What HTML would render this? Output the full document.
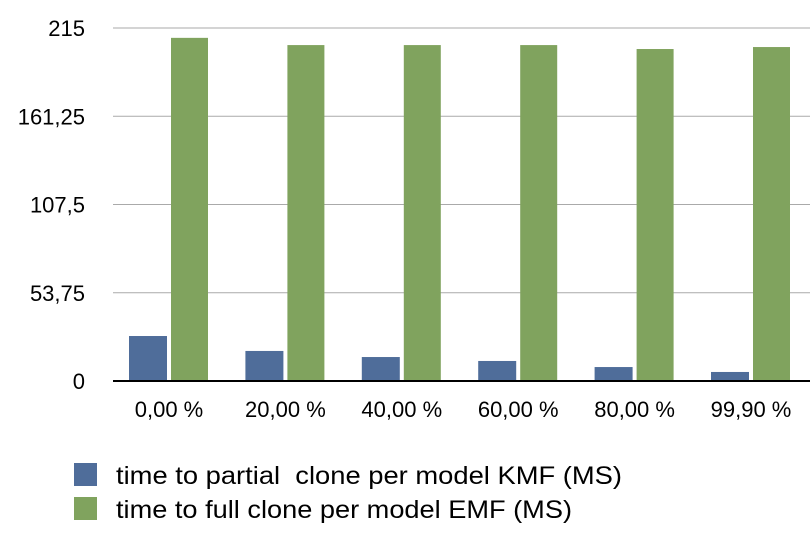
<!DOCTYPE html>
<html><head><meta charset="utf-8"><style>
body{margin:0;background:#fff;width:810px;height:538px;overflow:hidden;font-family:"Liberation Sans",Arial,sans-serif}
text{white-space:pre}
</style></head><body>
<svg width="810" height="538" id="chart"></svg>
<script>
const categories=["0,00 %","20,00 %","40,00 %","60,00 %","80,00 %","99,90 %"];
const kmfValues=[27.4,18.3,14.6,12.2,8.5,5.5];
const emfValues=[209,204.6,204.6,204.6,202.2,203.4];
const tickValues=[0,53.75,107.5,161.25,215];
const tickLabels=["0","53,75","107,5","161,25","215"];
const seriesNames=["time to partial  clone per model KMF (MS)","time to full clone per model EMF (MS)"];
const NS="http://www.w3.org/2000/svg";
const svg=document.getElementById('chart');
const x0=113,bandW=116.4,yBase=381,yTop=28,maxV=215;
function y(v){return yBase-(v/maxV)*(yBase-yTop);}
function bx(i){return x0+i*bandW;}
function mk(t,a,txt){const e=document.createElementNS(NS,t);for(const k in a)e.setAttribute(k,a[k]);if(txt!==undefined)e.textContent=txt;svg.appendChild(e);return e;}
tickValues.forEach((v,i)=>{
  if(v>0){const g=mk('line',{x1:x0,x2:810,y1:y(v),y2:y(v),stroke:'#aaa','stroke-width':1});
  
  }
  const t=mk('text',{x:85,y:y(v)+8,'text-anchor':'end','font-size':22,fill:'#000'},tickLabels[i]);
  
  
});
categories.forEach((c,i)=>{
  const b=mk('rect',{x:bx(i)+16,y:y(kmfValues[i]),width:38,height:yBase-y(kmfValues[i]),fill:'#4f6d9a'});
  
  
  const g=mk('rect',{x:bx(i)+58,y:y(emfValues[i]),width:37,height:yBase-y(emfValues[i]),fill:'#80a35e'});
  
  
  const t=mk('text',{x:bx(i)+56,y:417,'text-anchor':'middle','font-size':22,fill:'#000'},c);
  
  
});
const ax=mk('line',{x1:x0,x2:810,y1:yBase,y2:yBase,stroke:'#000','stroke-width':2});


const cols=['#4f6d9a','#80a35e'];
const legendLens=[506,456];
seriesNames.forEach((n,i)=>{
  const r=mk('rect',{x:74,y:463+i*34,width:23,height:23,fill:cols[i]});
  
  
  const t=mk('text',{x:116,y:484+i*34,'font-size':25,fill:'#000',textLength:legendLens[i],lengthAdjust:'spacingAndGlyphs'},n);
  
  
});
</script>
</body></html>
